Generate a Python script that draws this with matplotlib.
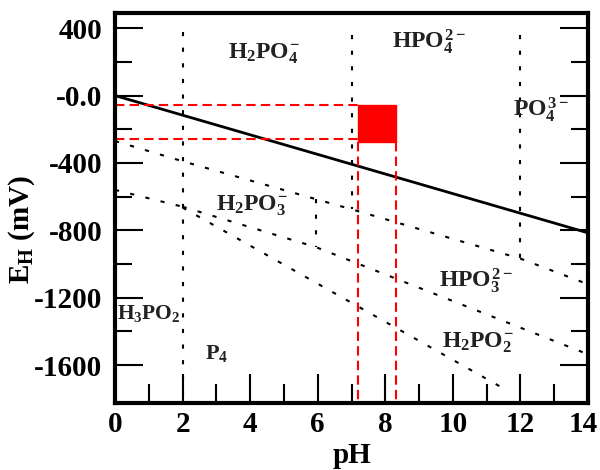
# Pourbaix-style E_H / pH diagram for phosphorus species

import matplotlib
matplotlib.use("Agg")
import matplotlib.pyplot as plt
import matplotlib.transforms as mtransforms
from matplotlib.patches import Rectangle
from matplotlib.ticker import FixedLocator

# --- data ---
# solid line
ph_solid = [0, 14]
e_solid = [0, -815]

# dotted boundaries
ph_a = [0, 2, 7, 12, 14]
e_a = [-270, -390, -675, -968, -1120]
ph_b = [0, 2]
e_b = [-560, -660]
ph_b1 = [2, 5.95, 14]
e_b1 = [-660, -900, -1536]
ph_b2 = [2, 11.6]
e_b2 = [-665, -1750]

# vertical dotted boundaries (pH, top, bottom)
vline_ph = [2, 7, 12, 5.95]
vline_top = [380, 360, 360, -615]
vline_bottom = [-1825, -675, -968, -900]

# red window
red_ph = [7.18, 8.32]
red_e = [-58, -255]
box_e = [-55, -275]

# species labels
species = [r'$H_2PO_4^{-}$', r'$HPO_4^{2-}$', r'$PO_4^{3-}$', r'$H_2PO_3^{-}$',
           r'$HPO_3^{2-}$', r'$H_2PO_2^{-}$', r'$H_3PO_2$', r'$P_4$']
species_ph = [4.4, 9.3, 12.6, 4.05, 10.7, 10.75, 1.0, 3.0]
species_e = [250, 320, -85, -655, -1096, -1470, -1294, -1530]
species_size = [17, 17, 17, 17, 17, 17, 15.5, 16]

x_ticks = [0, 2, 4, 6, 8, 10, 12, 14]
x_labels = ['0', '2', '4', '6', '8', '10', '12', '14']
y_ticks = [400, 0, -400, -800, -1200, -1600]
y_labels = ['400', '-0.0', '-400', '-800', '-1200', '-1600']
y_minor = [200, -200, -600, -1000, -1400]

# --- fonts ---
plt.rcParams['font.family'] = ['Liberation Serif', 'DejaVu Serif']
plt.rcParams['font.weight'] = 'bold'
plt.rcParams['mathtext.fontset'] = 'custom'
plt.rcParams['mathtext.rm'] = 'Liberation Serif:bold'
plt.rcParams['mathtext.it'] = 'Liberation Serif:bold'
plt.rcParams['mathtext.bf'] = 'Liberation Serif:bold'

fig = plt.figure(figsize=(6, 4.7), dpi=100)
ax = fig.add_axes([0.1917, 0.1426, 0.7883, 0.8297])

dot = (0, (2, 5.5))
red_dash = (0, (4.5, 2.5))

ax.plot(ph_solid, e_solid, color='black', lw=2)
for xs, ys in [(ph_a, e_a), (ph_b, e_b), (ph_b1, e_b1), (ph_b2, e_b2)]:
    ax.plot(xs, ys, color='black', lw=1.5, linestyle=dot)
for x, top, bot in zip(vline_ph, vline_top, vline_bottom):
    ax.plot([x, x], [top, bot], color='black', lw=1.5, linestyle=dot)

# red window
for e in red_e:
    ax.plot([0, red_ph[0]], [e, e], color='red', lw=1.5, linestyle=red_dash)
for x in red_ph:
    ax.plot([x, x], [box_e[1], -1825], color='red', lw=1.5, linestyle=red_dash)
ax.add_patch(Rectangle((red_ph[0], box_e[1]), red_ph[1] - red_ph[0],
                       box_e[0] - box_e[1], facecolor='red', edgecolor='red', lw=1))

for s, x, y, fs in zip(species, species_ph, species_e, species_size):
    ax.text(x, y, s, fontsize=fs, ha='center', va='center', color='#222222')

ax.set_xlim(0, 14)
ax.set_ylim(-1825, 490)

ax.xaxis.set_major_locator(FixedLocator(x_ticks))
ax.set_xticklabels(x_labels)
ax.xaxis.set_minor_locator(FixedLocator([1, 3, 5, 7, 9, 11, 13]))
ax.yaxis.set_major_locator(FixedLocator(y_ticks))
ax.set_yticklabels(y_labels)
ax.yaxis.set_minor_locator(FixedLocator(y_minor))

ax.tick_params(axis='x', which='major', direction='in', length=21, width=1.5,
               top=False, labelsize=21, pad=6)
ax.tick_params(axis='x', which='minor', direction='in', length=14, width=1.5, top=False)
ax.tick_params(axis='y', which='major', direction='in', length=20, width=1.5,
               right=True, labelsize=21, pad=9)
ax.tick_params(axis='y', which='minor', direction='in', length=12, width=1.5, right=True)

# last x label sits at the figure edge, nudge it left a bit
last = ax.get_xticklabels()[-1]
last.set_transform(last.get_transform() + mtransforms.ScaledTranslation(-0.05, 0, fig.dpi_scale_trans))

for sp in ax.spines.values():
    sp.set_linewidth(3)

ax.set_xlabel('pH', fontsize=21, fontweight='bold', labelpad=3)
ax.set_ylabel(r'E$_H$ (mV)', fontsize=21, fontweight='bold')
ax.yaxis.set_label_coords(-0.165, 0.446)

plt.savefig('out.png', dpi=100)
